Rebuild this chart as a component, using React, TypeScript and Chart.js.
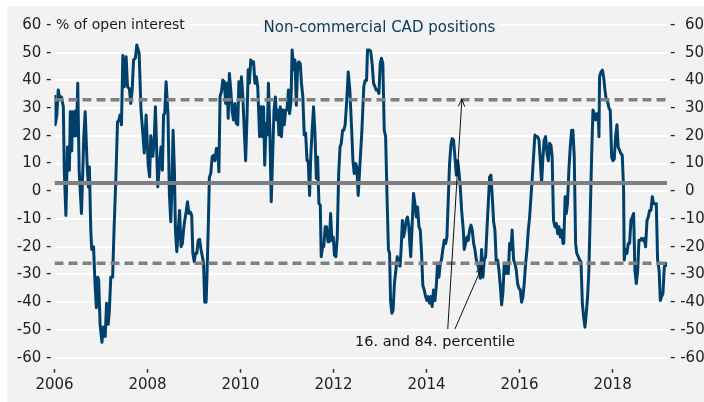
import React, { useEffect, useRef } from "react";
import { Chart, registerables } from "chart.js";
Chart.register(...registerables);

// Weekly dates (decimal years) and net non-commercial CAD positions (% of open interest)
const dates = [
  2006.0, 2006.015, 2006.05, 2006.08, 2006.12, 2006.15, 2006.19, 2006.21, 2006.245, 2006.28, 2006.32, 2006.34, 2006.37, 2006.39, 2006.43, 2006.45, 2006.47, 2006.5, 2006.53, 2006.58, 2006.63, 2006.66, 2006.7, 2006.73, 2006.75, 2006.78, 2006.8, 2006.84, 2006.87, 2006.9, 2006.93, 2006.95, 2006.98,
  2007.02, 2007.05, 2007.09, 2007.12, 2007.155, 2007.18, 2007.21, 2007.25, 2007.28, 2007.32, 2007.355, 2007.385, 2007.41, 2007.44, 2007.47, 2007.5, 2007.54, 2007.57, 2007.61, 2007.64, 2007.67, 2007.7, 2007.74, 2007.77, 2007.82, 2007.86, 2007.89, 2007.93, 2007.97,
  2008.015, 2008.045, 2008.07, 2008.115, 2008.145, 2008.17, 2008.22, 2008.26, 2008.29, 2008.32, 2008.345, 2008.37, 2008.4, 2008.44, 2008.47, 2008.5, 2008.52, 2008.55, 2008.58, 2008.6, 2008.63, 2008.66, 2008.69, 2008.72, 2008.75, 2008.775, 2008.8, 2008.83, 2008.86, 2008.89, 2008.92, 2008.95, 2008.975,
  2009.005, 2009.03, 2009.06, 2009.09, 2009.12, 2009.15, 2009.18, 2009.205, 2009.23, 2009.26, 2009.28, 2009.31, 2009.33, 2009.36, 2009.39, 2009.42, 2009.45, 2009.48, 2009.51, 2009.535, 2009.56, 2009.59, 2009.62, 2009.65, 2009.68, 2009.71, 2009.735, 2009.76, 2009.79, 2009.82, 2009.85, 2009.88, 2009.91, 2009.94, 2009.965, 2009.99,
  2010.02, 2010.05, 2010.08, 2010.11, 2010.14, 2010.165, 2010.19, 2010.22, 2010.25, 2010.28, 2010.31, 2010.34, 2010.37, 2010.41, 2010.44, 2010.47, 2010.495, 2010.52, 2010.55, 2010.575, 2010.6, 2010.63, 2010.66, 2010.69, 2010.72, 2010.75, 2010.775, 2010.8, 2010.825, 2010.855, 2010.88, 2010.91, 2010.94, 2010.97, 2010.998,
  2011.03, 2011.055, 2011.085, 2011.11, 2011.14, 2011.17, 2011.2, 2011.23, 2011.255, 2011.285, 2011.31, 2011.34, 2011.37, 2011.4, 2011.43, 2011.455, 2011.485, 2011.51, 2011.54, 2011.57, 2011.6, 2011.63, 2011.657, 2011.685, 2011.715, 2011.735, 2011.765, 2011.79, 2011.82, 2011.85, 2011.88, 2011.91, 2011.937, 2011.965, 2011.994,
  2012.02, 2012.05, 2012.08, 2012.11, 2012.14, 2012.165, 2012.195, 2012.22, 2012.25, 2012.28, 2012.316, 2012.35, 2012.39, 2012.417, 2012.445, 2012.475, 2012.5, 2012.53, 2012.61, 2012.65, 2012.68, 2012.71, 2012.73, 2012.77, 2012.8, 2012.83, 2012.86, 2012.89, 2012.92, 2012.95, 2012.975,
  2013.004, 2013.03, 2013.06, 2013.09, 2013.12, 2013.15, 2013.18, 2013.205, 2013.226, 2013.255, 2013.28, 2013.31, 2013.34, 2013.37, 2013.4, 2013.43, 2013.456, 2013.48, 2013.506, 2013.535, 2013.563, 2013.59, 2013.62, 2013.64, 2013.66, 2013.69, 2013.72, 2013.75, 2013.78, 2013.807, 2013.836, 2013.865, 2013.893, 2013.92, 2013.95, 2013.98,
  2014.008, 2014.036, 2014.065, 2014.094, 2014.12, 2014.15, 2014.18, 2014.21, 2014.237, 2014.266, 2014.295, 2014.32, 2014.35, 2014.38, 2014.41, 2014.438, 2014.466, 2014.495, 2014.524, 2014.55, 2014.58, 2014.61, 2014.64, 2014.67, 2014.7, 2014.725, 2014.754, 2014.79, 2014.81, 2014.84, 2014.87, 2014.897, 2014.926, 2014.955, 2014.983,
  2015.012, 2015.04, 2015.07, 2015.098, 2015.127, 2015.155, 2015.184, 2015.213, 2015.24, 2015.27, 2015.298, 2015.327, 2015.356, 2015.384, 2015.413, 2015.442, 2015.47, 2015.5, 2015.528, 2015.557, 2015.585, 2015.614, 2015.643, 2015.67, 2015.7, 2015.73, 2015.757, 2015.786, 2015.815, 2015.84, 2015.872, 2015.9, 2015.93, 2015.958, 2015.987,
  2016.016, 2016.044, 2016.073, 2016.1, 2016.13, 2016.16, 2016.188, 2016.216, 2016.245, 2016.274, 2016.3, 2016.33, 2016.36, 2016.388, 2016.417, 2016.446, 2016.474, 2016.503, 2016.53, 2016.56, 2016.59, 2016.618, 2016.646, 2016.675, 2016.7, 2016.73, 2016.76, 2016.79, 2016.82, 2016.847, 2016.876, 2016.9, 2016.933, 2016.95, 2016.98,
  2017.004, 2017.03, 2017.06, 2017.09, 2017.12, 2017.147, 2017.176, 2017.205, 2017.23, 2017.262, 2017.29, 2017.32, 2017.35, 2017.377, 2017.406, 2017.434, 2017.463, 2017.49, 2017.52, 2017.549, 2017.578, 2017.606, 2017.635, 2017.664, 2017.692, 2017.707, 2017.72, 2017.75, 2017.78, 2017.807, 2017.836, 2017.864, 2017.893, 2017.922, 2017.95, 2017.98,
  2018.008, 2018.036, 2018.065, 2018.094, 2018.12, 2018.15, 2018.18, 2018.208, 2018.237, 2018.25, 2018.28, 2018.309, 2018.338, 2018.366, 2018.395, 2018.424, 2018.452, 2018.48, 2018.51, 2018.54, 2018.567, 2018.596, 2018.624, 2018.653, 2018.682, 2018.71, 2018.74, 2018.768, 2018.796, 2018.825, 2018.854, 2018.88, 2018.91, 2018.94, 2018.968,
  2019.0, 2019.026, 2019.055, 2019.083, 2019.112, 2019.14, 2019.16,
];

const values = [
  34.7, 24, 27.5, 36.5, 33, 34, 30.5, 7.6, -8.7, 16, 7.6, 28.7, 14.5, 28.7, 20, 29, 20, 39, 7.6, -8, 19.6, 28.7, 10, 1.5, 8.8, -14, -21, -20, -33, -42, -31, -32, -48,
  -54.5, -49, -52.4, -40.4, -48, -43, -31, -31, -14, 5, 25, 25.7, 27.5, 24, 49, 37.7, 48.5, 37.7, 37, 31.7, 36.5, 47.4, 48, 52.8, 49.8, 29.3, 23, 13.8, 27.5,
  9.4, 5.2, 20, 12.6, 19, 30.5, 1.6, 10, 16, 7.6, 27.5, 28, 39.5, 28, -0.8, -11, -2, 22, 6.4, -14, -21.8, -14, -6.9, -20, -18.8, -14, -10.5, -7.5, -3.8, -8, -7.5, -8.7, -22.4,
  -25.4, -22.4, -22.4, -17.7, -17.3, -21, -23.6, -26, -40, -40, -29.7, -10.5, 5, 6.4, 12.4, 13, 11, 15.4, 15.4, 7, 34.2, 36, 40.1, 39.5, 31.7, 39, 26.3, 42.5, 36.5, 28.7, 25.7, 31.7, 24.5, 24, 39.5, 34,
  41.3, 34, 22, 11, 27, 43.8, 39, 47.4, 46, 46.7, 39, 41.3, 37.7, 19.7, 30.5, 19.7, 30.5, 9.4, 24.5, 20.3, 39, 22, -3.8, 12.4, 29.3, 34, 25.7, 29.3, 20.3, 30.5, 19.7, 29.3, 24, 29.3, 29.3,
  36.5, 28, 32.3, 51, 43.8, 47.4, 31, 46, 46.7, 46, 39, 34, 20.3, 21, 11, 11, -1.5, 12.4, 22, 30.5, 21, 4.6, 12.4, -4.4, -5, -23.6, -20, -20, -12.8, -12.8, -18.2, -18.2, -8, -17.7, -16.5,
  -23, -23.6, -16.5, 6.4, 16, 17.2, 22, 22, 24, 31.7, 43, 36.5, 22, 11, 6.4, 10, 8.8, -1.5, 22, 37.7, 40, 40, 51, 51, 50.4, 46, 39, 37.7, 36.5, 36.5, 35.3,
  46, 48, 46, 22, 19.7, -2, -21, -22.4, -39.4, -44, -43, -33, -28.5, -23.6, -26, -27, -20, -10.5, -16.5, -14, -10.5, -9.3, -12.8, -18.8, -23.6, -12.2, -0.8, -4.5, -9.3, -5.7, -12.8, -14, -22.4, -34, -35.6, -38,
  -39.4, -38, -40.4, -38, -41.6, -35.6, -39.4, -34, -26, -31, -26, -24.8, -21, -17.7, -18.8, -16.5, -3.3, 10, 16.6, 19, 18.5, 12.4, 5.8, 11, 6.4, 1.6, -6.9, -14, -21, -18.8, -16.5, -17.7, -14, -12.2, -14,
  -18.8, -21, -24.8, -26, -28.5, -31.4, -21, -31, -24.8, -23.6, -14, -4.5, 5.2, 5.8, -2, -11, -14, -26, -24.8, -28.5, -34, -41, -36.3, -26, -29.7, -26, -29.7, -18.8, -21, -14, -24.8, -26, -28.5, -33.3, -35,
  -35.6, -40, -38, -33.3, -26, -21, -14, -9.3, -2, 5.2, 12.4, 20.3, 19.7, 19.7, 18.5, 11, 2.8, 12.4, 18.5, 19.7, 13.6, 11, 17.3, 16.6, 12.4, -10.5, -12.8, -11.6, -15.3, -12.8, -16.5, -14, -18.8, -18.8, -2,
  -8, -4.5, 7.6, 16, 22, 22, 12.4, -18.8, -22.4, -23.6, -24.8, -25.4, -40.4, -45.2, -49, -44, -38, -28.5, -8, 12.4, 29.3, 28, 25.7, 28, 28, 19.7, 41.3, 43, 43.7, 41.3, 36.5, 33, 32.4, 30, 29.3, 12.4,
  11, 11.7, 19.7, 24, 16, 14.8, 13.6, 13, 0.4, -24.8, -21, -22.4, -18.8, -18.8, -10.5, -9.3, -8, -28.5, -33.3, -28.5, -17.7, -17.7, -17, -17.7, -17, -20, -10.5, -9.3, -6.9, -6.9, -2, -4.5, -4.5, -4.5, -24.8,
  -28.5, -39.4, -38, -36.8, -27.3, -26, -27.3,
];

const yearTicks = [2006, 2008, 2010, 2012, 2014, 2016, 2018];
const valueTicks = [-60, -50, -40, -30, -20, -10, 0, 10, 20, 30, 40, 50, 60];
const percentile84 = 33;
const percentile16 = -26;
const averageLevel = 3;
const xMin = 2006;
const xMax = 2019.17;
const yMin = -64;
const yMax = 62;

const titleText = "Non-commercial CAD positions";
const unitText = "% of open interest";
const noteText = "16. and 84. percentile";
const notePoint = { x: 2014.18, y: -54.4 };
const arrowLines = [
  { fromX: 2014.456, fromY: -49.7, toX: 2014.76, toY: 33.2 },
  { fromX: 2014.61, fromY: -49.7, toX: 2015.19, toY: -27.3 },
];

const BG = "#f2f2f2";
const FONT = "'DejaVu Sans', sans-serif";

const decorPlugin = {
  id: "decor",
  beforeDraw(chart: any) {
    const ctx = chart.ctx;
    ctx.save();
    ctx.fillStyle = BG;
    ctx.fillRect(0, 0, chart.width, chart.height);
    ctx.restore();
  },
  beforeDatasetsDraw(chart: any) {
    const { ctx, chartArea, scales } = chart;
    const y = scales.y;
    const ty = y.getPixelForValue(60);
    ctx.save();
    ctx.textBaseline = "middle";
    // unit label
    ctx.font = `14px ${FONT}`;
    ctx.textAlign = "left";
    const uw = ctx.measureText(unitText).width;
    ctx.fillStyle = BG;
    ctx.fillRect(chartArea.left, ty - 8, uw + 6, 16);
    ctx.fillStyle = "#1a1a1a";
    ctx.fillText(unitText, chartArea.left + 1.5, ty);
    // title
    ctx.font = `15px ${FONT}`;
    const tw = ctx.measureText(titleText).width;
    const tx = chartArea.left + 325;
    ctx.fillStyle = BG;
    ctx.fillRect(tx - tw / 2 - 4, ty - 8, tw + 8, 18);
    ctx.fillStyle = "#0c3d60";
    ctx.textAlign = "center";
    ctx.fillText(titleText, tx, ty + 3);
    ctx.restore();
  },
  afterDatasetsDraw(chart: any) {
    const { ctx, scales } = chart;
    const x = scales.x;
    const y = scales.y;
    ctx.save();
    ctx.strokeStyle = "#111";
    ctx.lineWidth = 1;
    arrowLines.forEach((a) => {
      const x1 = x.getPixelForValue(a.fromX);
      const y1 = y.getPixelForValue(a.fromY);
      const x2 = x.getPixelForValue(a.toX);
      const y2 = y.getPixelForValue(a.toY);
      ctx.beginPath();
      ctx.moveTo(x1, y1);
      ctx.lineTo(x2, y2);
      ctx.stroke();
      const ang = Math.atan2(y2 - y1, x2 - x1);
      const len = 8;
      const spread = 0.42;
      ctx.beginPath();
      ctx.moveTo(x2 - len * Math.cos(ang - spread), y2 - len * Math.sin(ang - spread));
      ctx.lineTo(x2, y2);
      ctx.lineTo(x2 - len * Math.cos(ang + spread), y2 - len * Math.sin(ang + spread));
      ctx.stroke();
    });
    ctx.font = `14.5px ${FONT}`;
    ctx.fillStyle = "#111";
    ctx.textAlign = "center";
    ctx.textBaseline = "middle";
    ctx.fillText(noteText, x.getPixelForValue(notePoint.x), y.getPixelForValue(notePoint.y));
    ctx.restore();
  },
};

export default function App() {
  const ref = useRef<HTMLCanvasElement | null>(null);
  useEffect(() => {
    if (!ref.current) return;
    const flat = (v: number) => [
      { x: xMin, y: v },
      { x: xMax, y: v },
    ];
    const tickFont = { family: FONT, size: 15 };
    const chart = new Chart(ref.current, {
      type: "line",
      data: {
        datasets: [
          {
            label: "84th percentile",
            data: flat(percentile84),
            borderColor: "#808080",
            borderWidth: 3.5,
            borderDash: [9, 5],
            pointRadius: 0,
            order: 1,
          },
          {
            label: "16th percentile",
            data: flat(percentile16),
            borderColor: "#808080",
            borderWidth: 3.5,
            borderDash: [9, 5],
            pointRadius: 0,
            order: 1,
          },
          {
            label: "Average",
            data: flat(averageLevel),
            borderColor: "#7f7f7f",
            borderWidth: 4,
            pointRadius: 0,
            order: 1,
          },
          {
            label: "Non-commercial CAD positions",
            data: dates.map((d, i) => ({ x: d, y: values[i] })),
            borderColor: "#00416c",
            borderWidth: 3,
            borderJoinStyle: "round",
            pointRadius: 0,
            tension: 0,
            order: 2,
          },
        ],
      },
      options: {
        animation: false,
        responsive: false,
        devicePixelRatio: 1,
        layout: { padding: { top: 13.4, left: 0, right: 0, bottom: 0 } },
        plugins: {
          legend: { display: false },
          tooltip: { enabled: false },
          title: { display: false },
        },
        scales: {
          x: {
            type: "linear",
            min: xMin,
            max: xMax,
            afterBuildTicks: (s: any) => {
              s.ticks = yearTicks.map((v) => ({ value: v }));
            },
            afterFit: (s: any) => {
              s.height = 33.3;
            },
            grid: {
              drawOnChartArea: false,
              drawTicks: true,
              tickLength: 4,
              tickColor: "#333",
              tickWidth: 1.5,
            },
            border: { display: false },
            ticks: {
              font: tickFont,
              color: "#222",
              padding: 3,
              maxRotation: 0,
              autoSkip: false,
              callback: (v: any) => String(v),
            },
          },
          y: {
            position: "left",
            min: yMin,
            max: yMax,
            afterBuildTicks: (s: any) => {
              s.ticks = valueTicks.map((v) => ({ value: v }));
            },
            afterFit: (s: any) => {
              s.width = 47.5;
            },
            grid: { color: "#ffffff", lineWidth: 2, drawTicks: false },
            border: { display: false },
            ticks: {
              font: tickFont,
              color: "#222",
              padding: 3,
              autoSkip: false,
              callback: (v: any) => `${v} -`,
            },
          },
          y2: {
            position: "right",
            min: yMin,
            max: yMax,
            afterBuildTicks: (s: any) => {
              s.ticks = valueTicks.map((v) => ({ value: v }));
            },
            afterFit: (s: any) => {
              s.width = 37;
            },
            grid: { drawOnChartArea: false, drawTicks: false },
            border: { display: false },
            ticks: {
              font: tickFont,
              color: "#222",
              padding: 3,
              autoSkip: false,
              callback: (v: any) => (v < 0 ? `- ${v}` : `-  ${v}`),
            },
          },
        },
      },
      plugins: [decorPlugin],
    } as any);
    return () => chart.destroy();
  }, []);
  return (
    <div style={{ position: "fixed", left: 7, top: 6, width: 697, height: 396 }}>
      <canvas ref={ref} width={697} height={396} style={{ width: 697, height: 396, display: "block" }} />
    </div>
  );
}
